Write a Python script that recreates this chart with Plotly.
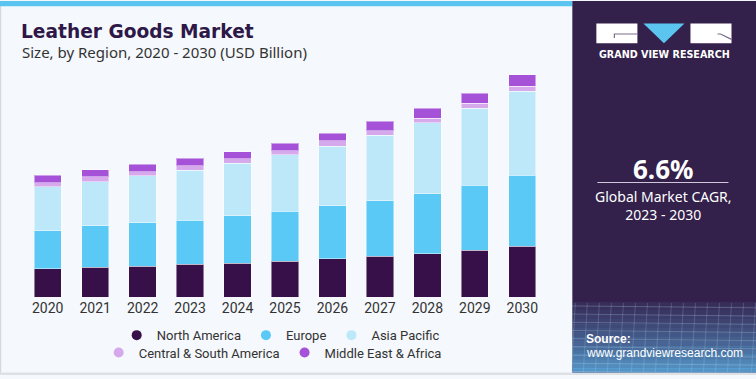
import plotly.graph_objects as go

years = ["2020", "2021", "2022", "2023", "2024", "2025", "2026", "2027", "2028", "2029", "2030"]
north_america = [91.8, 96.0, 100.2, 105.6, 109.8, 115.2, 124.8, 132.2, 140.8, 151.4, 164.2]
europe = [123.8, 134.4, 140.8, 143.0, 153.6, 162.2, 170.6, 180.2, 194.2, 211.2, 230.4]
asia_pacific = [141.8, 144.0, 152.6, 162.2, 170.6, 184.6, 194.2, 212.2, 230.4, 248.6, 272.0]
central_south_america = [13.8, 15.0, 12.8, 15.0, 13.8, 12.8, 17.0, 13.8, 13.8, 17.0, 16.0]
middle_east_africa = [23.4, 22.4, 23.4, 23.4, 22.4, 23.4, 24.6, 32.0, 33.0, 33.0, 37.4]

series_names = ["North America", "Europe", "Asia Pacific", "Central & South America", "Middle East & Africa"]
series_values = [north_america, europe, asia_pacific, central_south_america, middle_east_africa]
series_colors = ["#381049", "#5bc9f5", "#bde8f9", "#d5a9ec", "#a552d9"]
series_legend = ["legend", "legend", "legend", "legend2", "legend2"]

W, H = 756, 379
ML, MR, MT, MB = 24.3, 210.3, 70, 79
PW = W - ML - MR
PH = H - MT - MB


def px(x):
    return (x - ML) / PW


def py(y):
    return (H - MB - y) / PH


fig = go.Figure()
for name, vals, col in zip(series_names, series_values, series_colors):
    fig.add_trace(go.Bar(
        x=years, y=vals, name=name, marker=dict(color=col, line=dict(color="rgba(255,255,255,0.45)", width=1)),
        showlegend=False, hoverinfo="skip"))
for name, col, lg in zip(series_names, series_colors, series_legend):
    fig.add_trace(go.Scatter(x=[None], y=[None], mode="markers", name=name, legend=lg,
                             marker=dict(color=col, size=10, symbol="circle")))

shapes = []
# left light border and top stripe
shapes.append(dict(type="rect", xref="paper", yref="paper", x0=px(0), x1=px(1.5), y0=py(H), y1=py(0),
                   fillcolor="#d3d8de", line=dict(width=0)))
shapes.append(dict(type="rect", xref="paper", yref="paper", x0=px(0), x1=px(572), y0=py(5.5), y1=py(0),
                   fillcolor="#5cc5ef", line=dict(width=0)))
shapes.append(dict(type="rect", xref="paper", yref="paper", x0=px(0), x1=px(W), y0=py(H), y1=py(376.5),
                   fillcolor="#dde1e6", line=dict(width=0)))
# right panel
shapes.append(dict(type="rect", xref="paper", yref="paper", x0=px(572), x1=px(W), y0=py(376.5), y1=py(0),
                   fillcolor="#33204b", line=dict(width=0)))
# gradient at bottom of panel
steps = 16
for i in range(steps):
    y0 = 305 + i * (71.5 / steps)
    y1 = y0 + 71.5 / steps + 0.3
    op = 0.1 + 0.75 * (i / (steps - 1)) ** 1.2
    shapes.append(dict(type="rect", xref="paper", yref="paper", x0=px(572), x1=px(W), y0=py(min(y1, 376.5)), y1=py(y0),
                       fillcolor="#5aa9dc", opacity=op, line=dict(width=0)))
# faint grid lines in panel bottom
for k in range(9):
    yy = 309 + k * 8.3
    shapes.append(dict(type="line", xref="paper", yref="paper", x0=px(572), x1=px(W), y0=py(yy), y1=py(yy + 2),
                       line=dict(color="rgba(200,225,245,0.25)", width=1)))
for k in range(16):
    xx = 575 + k * 12
    shapes.append(dict(type="line", xref="paper", yref="paper", x0=px(xx), x1=px(xx - 4), y0=py(306), y1=py(376),
                       line=dict(color="rgba(200,225,245,0.2)", width=1)))
# logo
shapes.append(dict(type="rect", xref="paper", yref="paper", x0=px(596), x1=px(637), y0=py(43), y1=py(23),
                   fillcolor="white", line=dict(width=0)))
shapes.append(dict(type="rect", xref="paper", yref="paper", x0=px(690), x1=px(731), y0=py(43), y1=py(23),
                   fillcolor="white", line=dict(width=0)))
shapes.append(dict(type="path", xref="paper", yref="paper",
                   path=f"M {px(643)},{py(23)} L {px(684)},{py(23)} L {px(663.5)},{py(43)} Z",
                   fillcolor="#5bc5f0", line=dict(width=0)))
shapes.append(dict(type="path", xref="paper", yref="paper",
                   path=f"M {px(614)},{py(37.5)} L {px(614)},{py(33.5)} L {px(637)},{py(33.5)}",
                   line=dict(color="#7a6d8a", width=1.2)))
shapes.append(dict(type="path", xref="paper", yref="paper",
                   path=f"M {px(717)},{py(33.5)} L {px(720)},{py(33.5)} L {px(731)},{py(39)}",
                   line=dict(color="#7a6d8a", width=1.2)))
# CAGR separator line
shapes.append(dict(type="line", xref="paper", yref="paper", x0=px(597), x1=px(728), y0=py(184), y1=py(184),
                   line=dict(color="#cfc8d8", width=1)))

annotations = [
    dict(text="<b>Leather Goods Market</b>", x=px(19.5), y=py(31), xanchor="left", yanchor="middle",
         font=dict(family="DejaVu Sans", size=18.6, color="#2d1848")),
    dict(text="Size, by Region, 2020 - 2030 (USD Billion)", x=px(20), y=py(52), xanchor="left", yanchor="middle",
         font=dict(family="Noto Sans", size=15, color="#333333")),
    dict(text="<b>GRAND VIEW RESEARCH</b>", x=px(664), y=py(54.5), xanchor="center", yanchor="middle",
         font=dict(family="DejaVu Sans", size=9.6, color="white")),
    dict(text="<b>6.6%</b>", x=px(663), y=py(170.5), xanchor="center", yanchor="middle",
         font=dict(family="Noto Sans", size=26, color="white")),
    dict(text="Global Market CAGR,<br>2023 - 2030", x=px(663.5), y=py(207.5), xanchor="center", yanchor="middle",
         font=dict(family="Noto Sans", size=14, color="white")),
    dict(text="<b>Source:</b>", x=px(584), y=py(342.5), xanchor="left", yanchor="middle",
         font=dict(family="Liberation Sans", size=12, color="white")),
    dict(text="www.grandviewresearch.com", x=px(584), y=py(357), xanchor="left", yanchor="middle",
         font=dict(family="Liberation Sans", size=12, color="white")),
]
for a in annotations:
    a.update(xref="paper", yref="paper", showarrow=False)

fig.update_layout(
    width=W, height=H,
    margin=dict(l=ML, r=MR, t=MT, b=MB, pad=0),
    paper_bgcolor="#f5f8fc", plot_bgcolor="#f5f8fc",
    barmode="stack", bargap=0.424,
    font=dict(family="Roboto", color="#333333"),
    xaxis=dict(type="category", showgrid=False, showline=False, zeroline=False, ticks="",
               ticklabelstandoff=1,
               tickfont=dict(size=14, color="#333333"), fixedrange=True),
    yaxis=dict(visible=False, range=[0, PH * 3.2], showgrid=False, zeroline=False, fixedrange=True),
    legend=dict(orientation="h", x=px(280.7), xanchor="center", y=py(338.7), yanchor="middle", traceorder="normal",
                font=dict(size=13, color="#333333"), bgcolor="rgba(0,0,0,0)", itemwidth=30),
    legend2=dict(orientation="h", x=px(272.7), xanchor="center", y=py(356.3), yanchor="middle", traceorder="normal",
                 font=dict(size=13, color="#333333"), bgcolor="rgba(0,0,0,0)", itemwidth=30),
    shapes=shapes, annotations=annotations,
)

fig.write_html("out.html", config={"displayModeBar": False},
               post_script="document.body.style.margin='0';document.body.style.overflow='hidden';")
